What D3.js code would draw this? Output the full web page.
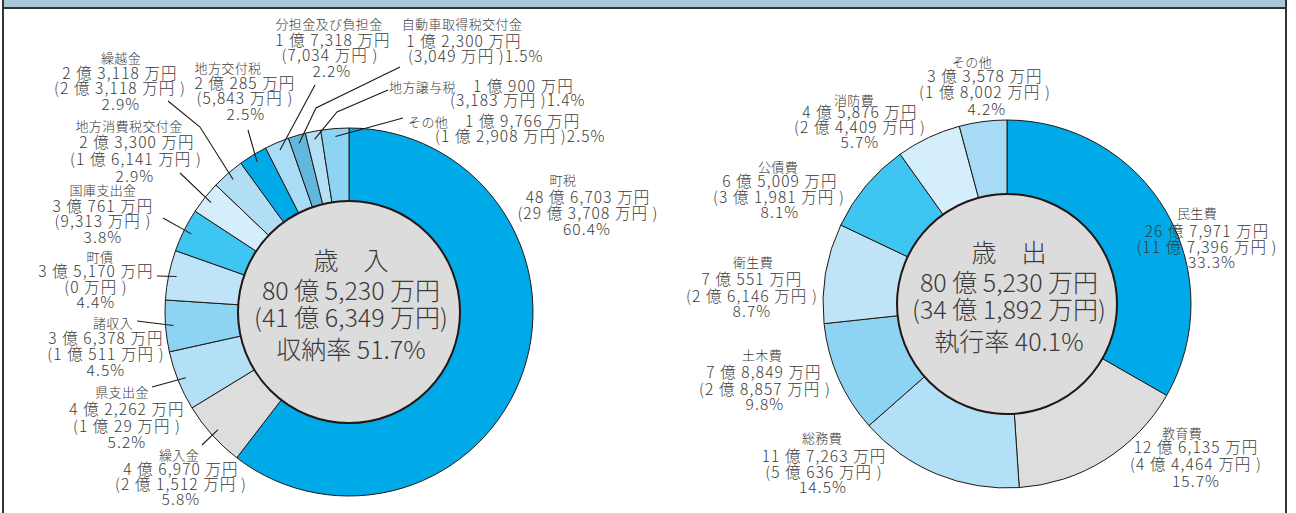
<!DOCTYPE html>
<html>
<head>
<meta charset="utf-8">
<script src="https://cdn.jsdelivr.net/npm/d3@7"></script>
<style>
  body { margin: 0; background: #fff; }
  svg text { font-family: "Noto Sans CJK JP", "Noto Sans", sans-serif; fill: #3a3a3a; font-weight: 300; }
</style>
</head>
<body>
<div id="chart"></div>
<script>
// 歳入 (万円)
const revNames = ["町税", "繰入金", "県支出金", "諸収入", "町債", "国庫支出金", "地方消費税交付金", "繰越金", "地方交付税", "分担金及び負担金", "自動車取得税交付金", "地方譲与税", "その他"];
const revAmounts = [486703, 46970, 42262, 36378, 35170, 30761, 23300, 23118, 20285, 17318, 12300, 10900, 19766];
const revCollected = [293708, 21512, 10029, 10511, 0, 9313, 16141, 23118, 5843, 7034, 3049, 3183, 12908];
const revPct = [60.4, 5.8, 5.2, 4.5, 4.4, 3.8, 2.9, 2.9, 2.5, 2.2, 1.5, 1.4, 2.5];
const revTotals = [805230, 416349, 51.7]; // 予算額, 収入済額, 収納率

// 歳出 (万円)
const expNames = ["民生費", "教育費", "総務費", "土木費", "衛生費", "公債費", "消防費", "その他"];
const expAmounts = [267971, 126135, 117263, 78849, 70551, 65009, 45876, 33578];
const expExecuted = [117396, 44464, 50636, 28857, 26146, 31981, 24409, 18002];
const expPct = [33.3, 15.7, 14.5, 9.8, 8.7, 8.1, 5.7, 4.2];
const expTotals = [805230, 341892, 40.1]; // 予算額, 支出済額, 執行率

// colours
const revColors = ["#00a9e7", "#dcdddd", "#b4e0f6", "#8cd3f4", "#bfe4f7", "#3ec5f1", "#d4eefb", "#b1def5", "#00a9e7", "#a9dcf5", "#62b7dc", "#b4e0f6", "#8cd3f4"];
const expColors = ["#00a9e7", "#dcdddd", "#b2e0f6", "#8cd3f4", "#bfe4f7", "#3ec5f1", "#d4eefb", "#a7dbf5"];

const width = 1296, height = 513;

// label layout: [kind, x, y, anchor]
const revLayout = [
  { lines: [["name", 563, 180], ["amt", 588, 198], ["col", 588, 214], ["pct", 587, 230]] },
  { lines: [["name", 179, 455], ["amt", 181, 470], ["col", 181, 485], ["pct", 181, 500]], lead: [[202, 445]] },
  { lines: [["name", 122, 392], ["amt", 127, 410], ["col", 127, 427], ["pct", 127, 443]], lead: [[152, 387]] },
  { lines: [["name", 113, 323], ["amt", 106, 339], ["col", 106, 355], ["pct", 106, 371]], lead: [[137, 321]] },
  { lines: [["name", 100, 257], ["amt", 96, 272], ["col", 96, 288], ["pct", 96, 303]], lead: [[157, 276]] },
  { lines: [["name", 103, 190], ["amt", 103, 207], ["col", 103, 222], ["pct", 103, 238]], lead: [[163, 218]] },
  { lines: [["name", 129, 126], ["amt", 137, 143], ["col", 136, 160], ["pct", 135, 177]], lead: [[180, 173]] },
  { lines: [["name", 121, 58], ["amt", 120, 74], ["col", 120, 89], ["pct", 121, 105]], lead: [[168, 101], [200, 127]] },
  { lines: [["name", 228, 68], ["amt", 245, 84], ["col", 245, 99], ["pct", 246, 115]], lead: [[248, 130]] },
  { lines: [["name", 329, 24], ["amt", 333, 41], ["col", 330, 56], ["pct", 332, 72]], lead: [[315, 85]] },
  { lines: [["name", 462, 24], ["amt", 464, 42], ["colpct", 408, 57, "start"]], lead: [[400, 67], [316, 108]] },
  { lines: [["name", 389, 87, "start"], ["amt", 473, 87, "start"], ["colpct", 450, 101, "start"]], lead: [[388, 90], [337, 112]] },
  { lines: [["name", 408, 122, "start"], ["amt", 465, 122, "start"], ["colpct", 435, 137, "start"]], lead: [[403, 118]] }
];
const expLayout = [
  { lines: [["name", 1197, 213], ["amt", 1207, 232], ["col", 1207, 248], ["pct", 1212, 263]] },
  { lines: [["name", 1182, 433], ["amt", 1196, 448], ["col", 1196, 465], ["pct", 1196, 482]] },
  { lines: [["name", 822, 438], ["amt", 824, 457], ["col", 824, 473], ["pct", 823, 488]] },
  { lines: [["name", 762, 355], ["amt", 764, 373], ["col", 765, 390], ["pct", 765, 405]] },
  { lines: [["name", 753, 262], ["amt", 752, 280], ["col", 752, 297], ["pct", 752, 312]] },
  { lines: [["name", 778, 167], ["amt", 780, 182], ["col", 779, 198], ["pct", 780, 213]] },
  { lines: [["name", 854, 100], ["amt", 860, 113], ["col", 860, 128], ["pct", 860, 143]] },
  { lines: [["name", 972, 62], ["amt", 985, 77], ["col", 985, 93], ["pct", 987, 110]] }
];

const fmtMan = v => {
  const oku = Math.floor(v / 10000), man = v % 10000;
  return (oku ? oku + " 億 " : "") + d3.format(",")(man) + " 万円";
};

const svg = d3.select("#chart").append("svg")
  .attr("width", width)
  .attr("height", height);

// frame
svg.append("rect").attr("x", 3).attr("y", 0).attr("width", 1283).attr("height", 8).attr("fill", "#a9c8da");
svg.append("line").attr("x1", 3).attr("x2", 1287).attr("y1", 8).attr("y2", 8).attr("stroke", "#333").attr("stroke-width", 2);
svg.append("line").attr("x1", 3).attr("x2", 3).attr("y1", 0).attr("y2", height).attr("stroke", "#333").attr("stroke-width", 2);
svg.append("line").attr("x1", 1286).attr("x2", 1286).attr("y1", 0).attr("y2", height).attr("stroke", "#333").attr("stroke-width", 2);

function donut(cfg) {
  const g = svg.append("g").attr("transform", `translate(${cfg.cx},${cfg.cy})`);
  const pie = d3.pie().sort(null).value(d => d)(cfg.values);
  const arc = d3.arc().innerRadius(cfg.r0).outerRadius(cfg.r1);
  const leadArc = d3.arc().innerRadius(cfg.r1 - 8).outerRadius(cfg.r1 - 8);

  g.selectAll("path.slice").data(pie).join("path")
    .attr("class", "slice")
    .attr("d", arc)
    .attr("fill", (d, i) => cfg.colors[i])
    .attr("stroke", "#231815")
    .attr("stroke-width", 1);

  g.append("circle").attr("r", cfg.r0)
    .attr("fill", "#dcdcdd")
    .attr("stroke", "#231815")
    .attr("stroke-width", 2);

  // centre text
  const ct = [cfg.title, fmtMan(cfg.totals[0]), "(" + fmtMan(cfg.totals[1]) + ")", cfg.rateLabel + " " + cfg.totals[2] + "%"];
  const cdy = [-51, -21, 6, 38];
  g.selectAll("text.center").data(ct).join("text")
    .attr("class", "center")
    .attr("x", 2)
    .attr("y", (d, i) => cdy[i])
    .attr("dy", "0.35em")
    .attr("text-anchor", "middle")
    .attr("font-size", 25)
    .text(d => d);

  // labels
  cfg.layout.forEach((lay, i) => {
    const texts = {
      name: cfg.names[i],
      amt: fmtMan(cfg.values[i]),
      col: "(" + fmtMan(cfg.second[i]) + " )",
      pct: cfg.pct[i] + "%",
      colpct: "(" + fmtMan(cfg.second[i]) + " )" + cfg.pct[i] + "%"
    };
    lay.lines.forEach(([kind, x, y, anchor]) => {
      svg.append("text")
        .attr("x", x).attr("y", y).attr("dy", "0.35em")
        .attr("text-anchor", anchor || "middle")
        .attr("font-size", kind === "name" ? 13 : 15.5)
        .attr("letter-spacing", kind === "name" ? 0.4 : 1.1)
        .text(texts[kind]);
    });
    if (lay.lead) {
      const c = leadArc.centroid(pie[i]);
      const pts = lay.lead.concat([[cfg.cx + c[0], cfg.cy + c[1]]]);
      svg.append("path")
        .attr("d", d3.line()(pts))
        .attr("fill", "none")
        .attr("stroke", "#231815")
        .attr("stroke-width", 1.1);
    }
  });
}

donut({
  cx: 349, cy: 312, r0: 111, r1: 184,
  values: revAmounts, second: revCollected, pct: revPct, names: revNames,
  colors: revColors, layout: revLayout, totals: revTotals,
  title: "歳　入", rateLabel: "収納率"
});

donut({
  cx: 1007, cy: 304, r0: 110, r1: 184,
  values: expAmounts, second: expExecuted, pct: expPct, names: expNames,
  colors: expColors, layout: expLayout, totals: expTotals,
  title: "歳　出", rateLabel: "執行率"
});
</script>
</body>
</html>
